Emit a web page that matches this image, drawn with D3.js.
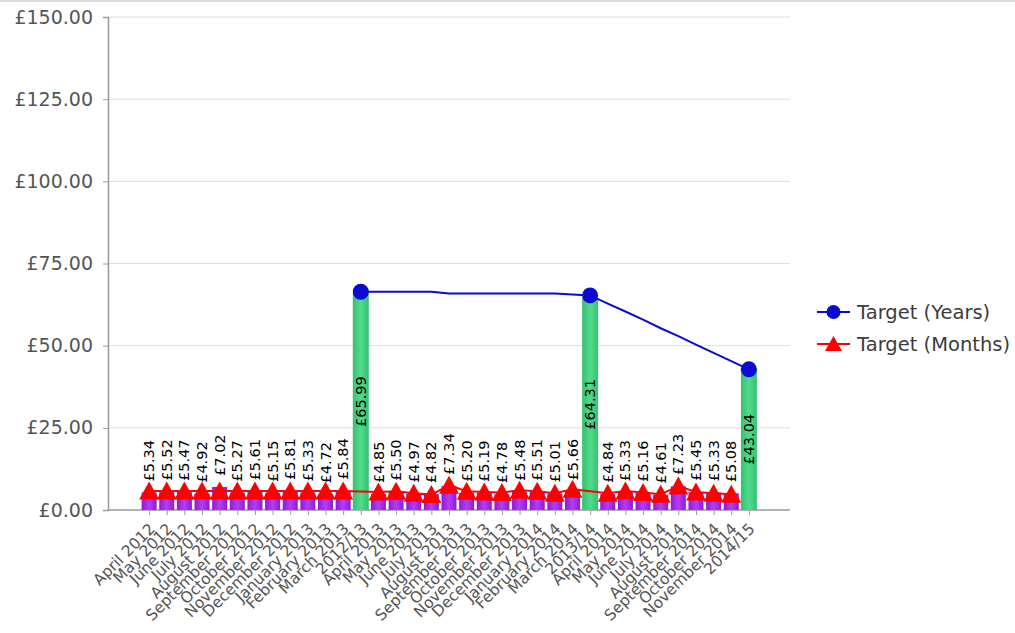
<!DOCTYPE html>
<html>
<head>
<meta charset="utf-8">
<script src="https://cdn.jsdelivr.net/npm/d3@7"></script>
<style>
  html, body { margin: 0; padding: 0; background: #fff; }
  svg { display: block; font-family: "DejaVu Sans", Verdana, sans-serif; }
</style>
</head>
<body>
<svg id="chart" width="1015" height="633"></svg>
<script>
const categories = [
  "April 2012","May 2012","June 2012","July 2012","August 2012","September 2012","October 2012","November 2012","December 2012","January 2013","February 2013","March 2013","2012/13",
  "April 2013","May 2013","June 2013","July 2013","August 2013","September 2013","October 2013","November 2013","December 2013","January 2014","February 2014","March 2014","2013/14",
  "April 2014","May 2014","June 2014","July 2014","August 2014","September 2014","October 2014","November 2014","2014/15"
];
const actualMonthly = [
  5.34,5.52,5.47,4.92,7.02,5.27,5.61,5.15,5.81,5.33,4.72,5.84,null,
  4.85,5.50,4.97,4.82,7.34,5.20,5.19,4.78,5.48,5.51,5.01,5.66,null,
  4.84,5.33,5.16,4.61,7.23,5.45,5.33,5.08,null
];
const actualAnnual = [
  null,null,null,null,null,null,null,null,null,null,null,null,65.99,
  null,null,null,null,null,null,null,null,null,null,null,null,64.31,
  null,null,null,null,null,null,null,null,43.04
];
const targetYears = [
  null,null,null,null,null,null,null,null,null,null,null,null,66.4,
  66.4,66.4,66.4,66.4,65.9,65.9,65.9,65.9,65.9,65.9,65.9,65.6,65.3,
  62.8,60.4,57.9,55.3,52.9,50.3,47.8,45.3,42.8
];
const targetMonths = [
  5.8,5.8,5.8,5.8,5.8,5.8,5.8,5.8,5.8,5.8,5.8,5.8,null,
  5.47,5.69,5.08,4.68,7.51,5.69,5.47,5.29,6.0,5.69,5.08,6.3,null,
  5.08,5.77,5.29,4.78,7.3,5.47,5.08,4.78,null
];
const yTicks = [0,25,50,75,100,125,150];
const seriesNames = ["Target (Years)","Target (Months)"];

const svg = d3.select("#chart");
const pLeft = 108, pRight = 790, pTop = 17, pBottom = 510;

const x = d3.scalePoint().domain(categories).range([pLeft, pRight]).padding(2.33);
const y = d3.scaleLinear().domain([0,150]).range([pBottom, pTop]);
const money = d => "£" + d3.format(".2f")(d);

// top border
svg.append("rect").attr("x",0).attr("y",0).attr("width",1015).attr("height",2).attr("fill","#dcdcdc");

// gradients
const defs = svg.append("defs");
function grad(id, edge, mid) {
  const g = defs.append("linearGradient").attr("id", id).attr("x1","0%").attr("x2","100%").attr("y1","0%").attr("y2","0%");
  g.append("stop").attr("offset","0%").attr("stop-color", edge);
  g.append("stop").attr("offset","50%").attr("stop-color", mid);
  g.append("stop").attr("offset","100%").attr("stop-color", edge);
}
grad("gPurple", "#9018da", "#b43ef2");
grad("gGreen", "#37c070", "#4fdc8c");

// grid
svg.append("g").selectAll("line").data(yTicks.filter(t => t > 0)).join("line")
  .attr("x1", pLeft).attr("x2", pRight).attr("y1", d => y(d)).attr("y2", d => y(d))
  .attr("stroke", "#dedede").attr("stroke-width", 1);

// y axis
const yAxis = svg.append("g").attr("transform", `translate(${pLeft},0)`)
  .call(d3.axisLeft(y).tickValues(yTicks).tickFormat(money).tickSize(5).tickPadding(10));
yAxis.select(".domain").attr("stroke", "#9a9a9a").attr("stroke-width", 1.5);
yAxis.selectAll(".tick line").attr("stroke", "#9a9a9a");
yAxis.selectAll("text").attr("font-size", 19).attr("fill", "#555555").attr("font-family", "DejaVu Sans");

// x axis
const xAxis = svg.append("g").attr("transform", `translate(0,${pBottom})`)
  .call(d3.axisBottom(x).tickSize(5).tickFormat(""));
xAxis.select(".domain").attr("stroke", "#9a9a9a").attr("stroke-width", 1.5).attr("d", `M${pLeft},0H${pRight}`);
xAxis.selectAll(".tick line").attr("stroke", "#9a9a9a");

svg.append("g").selectAll("text").data(categories).join("text")
  .attr("transform", d => `translate(${x(d) + 3},${pBottom + 16}) rotate(-45)`)
  .attr("text-anchor", "end").attr("dy", "0.35em")
  .attr("font-size", 15.5).attr("fill", "#555555")
  .text(d => d);

const bw = 15;
// monthly bars
const monthly = categories.map((c, i) => ({c, v: actualMonthly[i]})).filter(d => d.v != null);
svg.append("g").selectAll("rect").data(monthly).join("rect")
  .attr("x", d => x(d.c) - bw/2).attr("width", bw)
  .attr("y", d => y(d.v)).attr("height", d => y(0) - y(d.v))
  .attr("fill", "url(#gPurple)");
// annual bars
const annual = categories.map((c, i) => ({c, v: actualAnnual[i]})).filter(d => d.v != null);
svg.append("g").selectAll("rect").data(annual).join("rect")
  .attr("x", d => x(d.c) - bw/2 - 0.5).attr("width", bw + 1)
  .attr("y", d => y(d.v)).attr("height", d => y(0) - y(d.v))
  .attr("fill", "url(#gGreen)");

// lines
const ty = categories.map((c, i) => ({c, v: targetYears[i]})).filter(d => d.v != null);
const tm = categories.map((c, i) => ({c, v: targetMonths[i]})).filter(d => d.v != null);
const line = d3.line().x(d => x(d.c)).y(d => y(d.v));
svg.append("path").datum(ty).attr("d", line).attr("fill", "none").attr("stroke", "#0a0ad0").attr("stroke-width", 2);
svg.append("path").datum(tm).attr("d", line).attr("fill", "none").attr("stroke", "#ff0000").attr("stroke-width", 2);

// blue markers (annual points only)
svg.append("g").selectAll("circle").data(ty.filter(d => d.c.includes("/"))).join("circle")
  .attr("cx", d => x(d.c)).attr("cy", d => y(d.v)).attr("r", 8).attr("fill", "#0a0ad0");
// red triangles
const tri = "M0,-9.5L10,8.5L-10,8.5Z";
svg.append("g").selectAll("path").data(tm).join("path")
  .attr("transform", d => `translate(${x(d.c)},${y(d.v)})`).attr("d", tri).attr("fill", "#ff0000");

// labels
svg.append("g").selectAll("text").data(monthly).join("text")
  .attr("transform", d => `translate(${x(d.c)},${y(d.v) - 11}) rotate(-90)`)
  .attr("dy", "0.35em").attr("text-anchor", "start")
  .attr("font-size", 14.5).attr("fill", "#000")
  .text(d => money(d.v));
svg.append("g").selectAll("text").data(annual).join("text")
  .attr("transform", d => `translate(${x(d.c)},${(y(d.v) + y(0)) / 2}) rotate(-90)`)
  .attr("dy", "0.35em").attr("text-anchor", "middle")
  .attr("font-size", 14.5).attr("fill", "#000")
  .text(d => money(d.v));

// legend
const lg = svg.append("g");
const rows = [312, 344];
lg.append("line").attr("x1", 817).attr("x2", 850).attr("y1", rows[0]).attr("y2", rows[0]).attr("stroke", "#0a0ad0").attr("stroke-width", 2);
lg.append("circle").attr("cx", 833.5).attr("cy", rows[0]).attr("r", 7).attr("fill", "#0a0ad0");
lg.append("line").attr("x1", 817).attr("x2", 850).attr("y1", rows[1]).attr("y2", rows[1]).attr("stroke", "#ff0000").attr("stroke-width", 2);
lg.append("path").attr("transform", `translate(833.5,${rows[1]})`).attr("d", "M0,-8L8.5,7L-8.5,7Z").attr("fill", "#ff0000");
lg.selectAll("text").data(seriesNames).join("text")
  .attr("x", 857).attr("y", (d, i) => rows[i]).attr("dy", "0.35em")
  .attr("font-size", 19.5).attr("fill", "#3c3c3c")
  .text(d => d);
</script>
</body>
</html>
